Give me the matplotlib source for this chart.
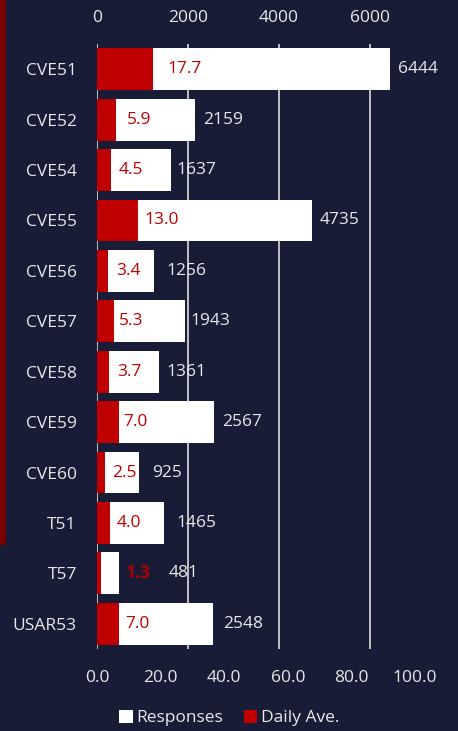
import matplotlib
matplotlib.use("Agg")
import matplotlib.pyplot as plt
from matplotlib.patches import Rectangle, Patch

categories = ["CVE51", "CVE52", "CVE54", "CVE55", "CVE56", "CVE57", "CVE58",
              "CVE59", "CVE60", "T51", "T57", "USAR53"]
responses = [6444, 2159, 1637, 4735, 1256, 1943, 1361, 2567, 925, 1465, 481, 2548]
daily_ave = [17.7, 5.9, 4.5, 13.0, 3.4, 5.3, 3.7, 7.0, 2.5, 4.0, 1.3, 7.0]
top_ticks = [0, 2000, 4000, 6000]
bottom_ticks = [0, 20, 40, 60, 80, 100]

# label offsets (pixels from bar end), styling only
resp_offsets = [8, 8, 5, 8, 12, 5, 8, 9, 13, 13, 50, 10]
daily_offsets = [14, 11, 7, 6, 8, 5, 8, 4, 7, 7, 25, 6]

BG = "#191c37"
RED = "#c00000"
TXT = "#e8e8e8"
GRID = "#cfcfcf"
FS = 12.5

plt.rcParams['font.family'] = ['Open Sans', 'DejaVu Sans']

W, H = 458, 731
fig = plt.figure(figsize=(W / 100, H / 100), dpi=100, facecolor=BG)
ax = fig.add_axes([97 / W, 1 - 649 / H, (415 - 97) / W, (649 - 44) / H])
ax.set_facecolor(BG)
ax2 = ax.twiny()
ax2.patch.set_visible(False)

y = list(range(len(categories)))
bh = 0.83

# Responses on primary axis (ticks on top)
ax.barh(y, responses, height=bh, color="white", zorder=2)
ax.set_xlim(0, 7000)
ax.set_ylim(len(categories) - 0.5, -0.5)
ax.set_xticks(top_ticks)
ax.xaxis.tick_top()
ax.tick_params(axis='x', length=0, pad=13, labelsize=FS, labelcolor=TXT)
ax.set_yticks(y)
ax.set_yticklabels(categories)
ax.tick_params(axis='y', length=0, pad=14.5, labelsize=FS, labelcolor=TXT)
for v in top_ticks:
    ax.axvline(v, color=GRID, lw=1.3, zorder=1)
for s in ax.spines.values():
    s.set_visible(False)
for yi, v, off in zip(y, responses, resp_offsets):
    ax.annotate(f"{v}", xy=(v, yi), xytext=(off * 0.72, 0), textcoords='offset points',
                va='center', ha='left', color=TXT, fontsize=FS, zorder=5)

# Daily average on twin axis (ticks on bottom)
ax2.barh(y, daily_ave, height=bh, color=RED, zorder=3)
ax2.set_xlim(0, 100)
ax2.set_xticks(bottom_ticks)
ax2.set_xticklabels([f"{t:.1f}" for t in bottom_ticks])
ax2.xaxis.tick_bottom()
ax2.tick_params(axis='x', length=0, pad=15, labelsize=FS, labelcolor=TXT)
for s in ax2.spines.values():
    s.set_visible(False)
for yi, v, off in zip(y, daily_ave, daily_offsets):
    outside = off > 20
    ax2.annotate(f"{v:.1f}", xy=(v, yi), xytext=(off * 0.72, 0), textcoords='offset points',
                 va='center', ha='left', color="#b00000" if outside else RED,
                 fontsize=FS, fontweight='bold' if outside else 'normal', zorder=5)

# Left dark red stripe
fig.patches.append(Rectangle((0, 1 - 545 / H), 6 / W, 545 / H, transform=fig.transFigure,
                             facecolor="#780000", edgecolor='none', zorder=0))

handles = [Patch(facecolor="white", edgecolor='none', label="Responses"),
           Patch(facecolor=RED, edgecolor='none', label="Daily Ave.")]
fig.legend(handles=handles, loc='center', bbox_to_anchor=(0.5, 1 - 718 / H), ncol=2,
           frameon=False, fontsize=FS, labelcolor=TXT, handlelength=0.8, handleheight=0.8,
           handletextpad=0.2, columnspacing=1.2)

fig.savefig("out.png", dpi=100, facecolor=BG)
